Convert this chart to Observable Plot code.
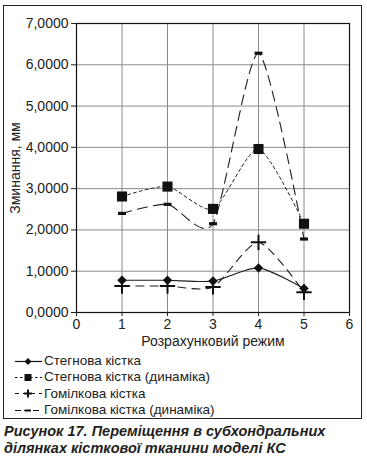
<!DOCTYPE html>
<html>
<head>
<meta charset="utf-8">
<script src="https://cdn.jsdelivr.net/npm/d3@7"></script>
<script src="https://cdn.jsdelivr.net/npm/@observablehq/plot@0.6"></script>
<style>
  html, body { margin: 0; padding: 0; background: #fff; }
  body { position: relative; width: 367px; height: 465px; overflow: hidden;
         font-family: "Liberation Sans", Arial, sans-serif; color: #222; }
  #box { position: absolute; left: 3px; top: 5px; width: 359px; height: 414px;
         box-sizing: border-box; border: 1px solid #222; }
  #chart { position: absolute; left: 0; top: 0; }
  #legend { position: absolute; left: 14px; top: 353px; font-size: 13.5px; line-height: 16.3px; }
  #legend .row { display: flex; align-items: center; height: 16.3px; }
  #legend svg { margin-right: 1px; }
  #caption { position: absolute; left: 4px; top: 423px; font-size: 14.5px; line-height: 17px;
             font-weight: bold; font-style: italic; color: #231f20; }
</style>
</head>
<body>
<div id="box"></div>
<div id="chart"></div>
<div id="legend"></div>
<div id="caption"></div>
<script>
// ---- data ----
const regimes = [1, 2, 3, 4, 5];
const seriesNames = [
  "Стегнова кістка",
  "Стегнова кістка (динаміка)",
  "Гомілкова кістка",
  "Гомілкова кістка (динаміка)"
];
const stegnova = [0.78, 0.78, 0.76, 1.08, 0.58];
const stegnovaDyn = [2.81, 3.05, 2.51, 3.96, 2.15];
const homilkova = [0.64, 0.64, 0.62, 1.70, 0.49];
const homilkovaDyn = [2.40, 2.62, 2.15, 6.28, 1.78];
const xTicks = [0, 1, 2, 3, 4, 5, 6];
const yTicks = [0, 1, 2, 3, 4, 5, 6, 7];
const xLabel = "Розрахунковий режим";
const yLabel = "Зминання, мм";
const captionLines = [
  "Рисунок 17. Переміщення в субхондральних",
  "ділянках кісткової тканини моделі КС"
];

const toRows = (vals) => regimes.map((x, i) => ({x, y: vals[i]}));
const s1 = toRows(stegnova), s2 = toRows(stegnovaDyn), s3 = toRows(homilkova), s4 = toRows(homilkovaDyn);

const dashSymbol = { draw(ctx) { ctx.rect(-4, -1.6, 8, 3.2); } };
const ink = "#1e1e1e";
const fmt = d => d.toFixed(4).replace(".", ",");
const smooth = { curve: "cardinal", tension: 0.3 };

const chart = Plot.plot({
  width: 367, height: 350,
  marginLeft: 76, marginRight: 18, marginTop: 23, marginBottom: 38,
  style: { fontFamily: '"Liberation Sans", Arial, sans-serif', color: "#222", background: "transparent" },
  x: { domain: [0, 6] },
  y: { domain: [0, 7] },
  marks: [
    Plot.gridX({ ticks: xTicks, stroke: "#8a8a8a", strokeOpacity: 1, strokeWidth: 1 }),
    Plot.gridY({ ticks: yTicks, stroke: "#8a8a8a", strokeOpacity: 1, strokeWidth: 1 }),
    Plot.frame({ stroke: "#111", strokeWidth: 1.2 }),
    Plot.axisX({ ticks: xTicks, tickSize: 4, tickPadding: 3, fontSize: 14, tickFormat: d => String(d),
                 label: xLabel, labelAnchor: "center", labelArrow: "none", labelOffset: 33 }),
    Plot.axisY({ ticks: yTicks, tickSize: 5, tickPadding: 3, fontSize: 14, tickFormat: fmt,
                 label: yLabel, labelAnchor: "center", labelArrow: "none", labelOffset: 66 }),
    Plot.line(s4, { x: "x", y: "y", ...smooth, stroke: ink, strokeWidth: 1.1, strokeDasharray: "10,6" }),
    Plot.line(s3, { x: "x", y: "y", ...smooth, stroke: ink, strokeWidth: 1.1, strokeDasharray: "8,6" }),
    Plot.line(s2, { x: "x", y: "y", ...smooth, stroke: ink, strokeWidth: 1, strokeDasharray: "3,3" }),
    Plot.line(s1, { x: "x", y: "y", ...smooth, stroke: ink, strokeWidth: 1.1 }),
    Plot.dot(s4, { x: "x", y: "y", symbol: dashSymbol, fill: "#111", stroke: "none" }),
    Plot.dot(s3, { x: "x", y: "y", symbol: "plus", stroke: "#111", strokeWidth: 2, r: 5 }),
    Plot.dot(s2, { x: "x", y: "y", symbol: "square", fill: "#111", stroke: "none", r: 5.7 }),
    Plot.dot(s1, { x: "x", y: "y", symbol: "diamond2", fill: "#111", stroke: "none", r: 4.3 })
  ]
});
chart.style.fontSize = "13.5px";
document.getElementById("chart").appendChild(chart);

// ---- legend ----
const legendSpecs = [
  { dash: null, marker: "diamond" },
  { dash: "2.5,2.5", marker: "square" },
  { dash: "4,4", marker: "plus" },
  { dash: "6,3", marker: "dash" }
];
const markerSvg = {
  diamond: '<path d="M14,5 L17.5,8.5 L14,12 L10.5,8.5 Z" fill="#111"/>',
  square: '<rect x="10.5" y="5" width="7" height="7" fill="#111"/>',
  plus: '<path d="M10,8.5 H18 M14,4.5 V12.5" stroke="#111" stroke-width="2"/>',
  dash: '<rect x="11" y="7.5" width="6" height="2" fill="#111"/>'
};
const legend = document.getElementById("legend");
seriesNames.forEach((name, i) => {
  const sp = legendSpecs[i];
  const row = document.createElement("div");
  row.className = "row";
  row.innerHTML =
    `<svg width="29" height="17" viewBox="0 0 29 17"><line x1="1" y1="8.5" x2="28" y2="8.5" stroke="#111" stroke-width="1.2" ${sp.dash ? `stroke-dasharray="${sp.dash}"` : ""}/>${markerSvg[sp.marker]}</svg><span>${name}</span>`;
  legend.appendChild(row);
});

document.getElementById("caption").innerHTML = captionLines.join("<br>");
</script>
</body>
</html>
